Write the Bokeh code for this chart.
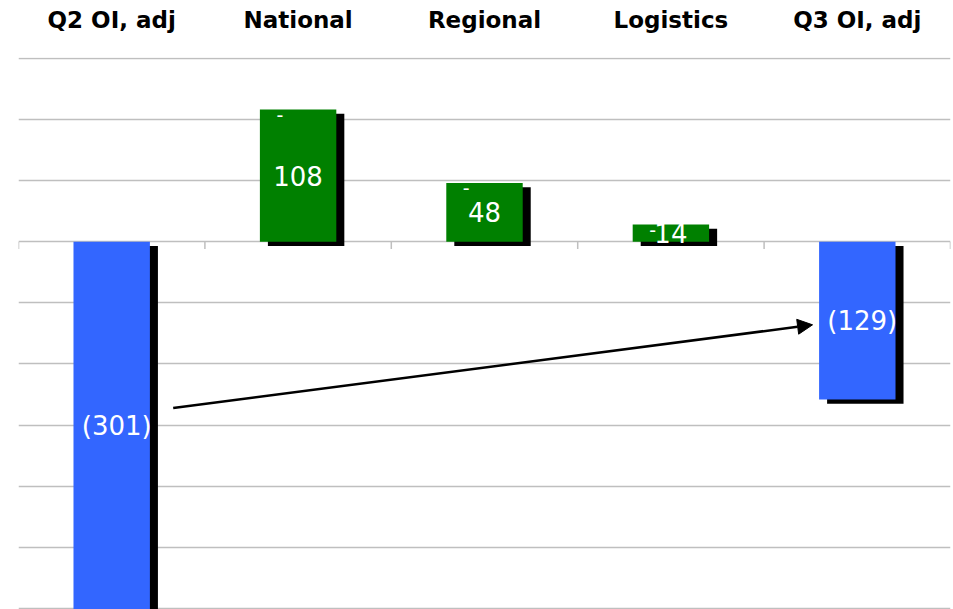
from bokeh.plotting import figure
from bokeh.models import FixedTicker, Range1d, FactorRange, Arrow, NormalHead
from bokeh.core.properties import value
from bokeh.embed import file_html
from bokeh.resources import INLINE

# ---- data ----
categories = ["Q2 OI, adj", "National", "Regional", "Logistics", "Q3 OI, adj"]
values = [-301, 108, 48, 14, -129]
labels = ["(301)", "108", "48", "14", "(129)"]
bar_colors = ["#3366FF", "#008000", "#008000", "#008000", "#3366FF"]
grid_values = [150, 100, 50, 0, -50, -100, -150, -200, -250, -300]
# annotation arrow (data coordinates): from the Q2 bar toward the Q3 bar
arrow_start = (0.83, -136)
arrow_end = (4.26, -68)

# ---- style constants ----
BAR_W = 0.41
SH_DX = 0.043   # shadow shift right (category units)
SH_DY = 3.5     # shadow shift down (value units)
GRID = "#BFBFBF"

n = len(categories)
xc = [i + 0.5 for i in range(n)]

p = figure(width=953, height=609,
           x_range=FactorRange(factors=categories, range_padding=0),
           y_range=Range1d(-300.8, 150.6),
           x_axis_location="above",
           output_backend="svg", toolbar_location=None,
           min_border_left=18, min_border_right=3,
           min_border_top=57, min_border_bottom=0)
p.outline_line_color = None
p.background_fill_color = "white"

# axes
p.xaxis.axis_line_color = None
p.xaxis.major_tick_line_color = None
p.xaxis.minor_tick_line_color = None
p.xaxis.major_label_text_font = "DejaVu Sans"
p.xaxis.major_label_text_font_style = "bold"
p.xaxis.major_label_text_font_size = "23px"
p.xaxis.major_label_text_color = "black"
p.xaxis.major_label_standoff = 19
p.xgrid.visible = False
p.yaxis.visible = False
p.ygrid.ticker = FixedTicker(ticks=grid_values)
p.ygrid.grid_line_color = GRID
p.ygrid.grid_line_width = 1.5

# tick marks hanging below the zero line at category boundaries
bounds = list(range(n + 1))
p.segment(x0=bounds, y0=[0] * len(bounds), x1=bounds, y1=[-6] * len(bounds),
          line_color=GRID, line_width=1.5)

# shadows
p.vbar(x=[x + SH_DX for x in xc], bottom=[-SH_DY] * n,
       top=[v - SH_DY for v in values], width=BAR_W,
       fill_color="black", line_color=None)
# bars
p.vbar(x=categories, bottom=[0] * n, top=values, width=BAR_W,
       fill_color=bar_colors, line_color=None)

# value labels
p.text(x=categories, y=[v / 2 for v in values], text=labels,
       x_offset=[5 if v < 0 else 0 for v in values],
       text_color="white", text_align="center", text_baseline="middle",
       text_font=value("DejaVu Sans"), text_font_size="26px")

# small white dash marks near the top of the green bars
pos_idx = [i for i, v in enumerate(values) if v > 0]
p.text(x=[xc[i] - BAR_W / 2 for i in pos_idx], y=[values[i] for i in pos_idx],
       text=["-"] * len(pos_idx), x_offset=20, y_offset=5,
       text_color="white", text_align="center", text_baseline="middle",
       text_font=value("DejaVu Sans"), text_font_size="19px")

# arrow
p.add_layout(Arrow(end=NormalHead(size=15, fill_color="black", line_color="black"),
                   x_start=arrow_start[0], y_start=arrow_start[1],
                   x_end=arrow_end[0], y_end=arrow_end[1],
                   line_color="black", line_width=2.5))

open("out.html", "w").write(file_html(p, INLINE))
